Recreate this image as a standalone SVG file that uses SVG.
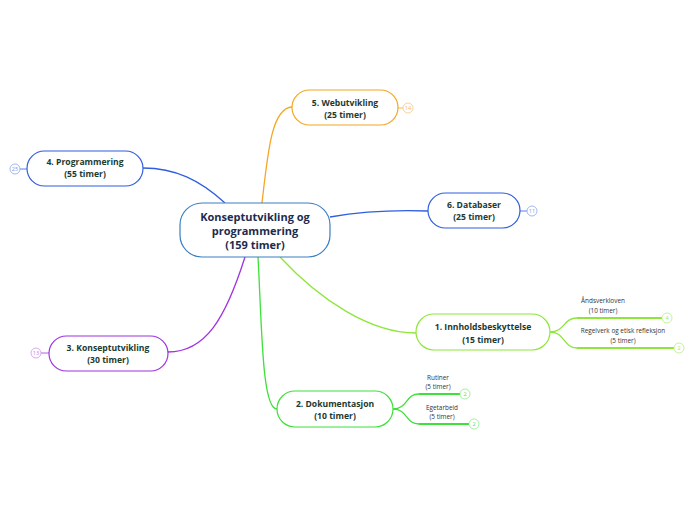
<svg xmlns="http://www.w3.org/2000/svg" width="696" height="520" viewBox="0 0 696 520">
<style>
.node{fill:#fff;stroke-width:1.2}
.lbl{font-family:"Open Sans","Noto Sans",sans-serif;font-weight:bold;font-size:8.6px;fill:#1d3a2f;text-anchor:middle}
.clbl{font-family:"Open Sans","Noto Sans",sans-serif;font-weight:bold;font-size:11px;fill:#1c2b4f;text-anchor:middle}
.sub{font-family:"Open Sans","Noto Sans",sans-serif;font-size:6.4px;fill:#333;text-anchor:middle}
.badge{fill:#fff;stroke-width:0.8}
.btxt{font-family:"Open Sans","Noto Sans",sans-serif;font-size:5.5px;text-anchor:middle}
.c{fill:none;stroke-width:1.3}
.u{fill:none;stroke-width:1.8}
.s{fill:none;stroke-width:0.8}
</style>
<rect width="696" height="520" fill="#fff"/>
<g id="connectors">
<path class="c" stroke="#f5a623" d="M262,203 C268,150 272,108 292,107"/>
<path class="c" stroke="#2f5fe0" d="M225,203 C200,180 175,168 143,168"/>
<path class="c" stroke="#2f5fe0" d="M330,217 C370,210 400,210 428,211"/>
<path class="c" stroke="#8ee63a" d="M280,257 C320,300 370,333 416,333"/>
<path class="c" stroke="#3ee03a" d="M258,257 C262,330 262,409 277,409"/>
<path class="c" stroke="#a033e0" d="M245,257 C225,320 205,352 168,352"/>
<path class="c" stroke="#8ee63a" d="M550,332 C565,332 563,318 577,318"/>
<path class="c" stroke="#8ee63a" d="M550,332 C565,332 563,348 577,348"/>
<path class="u" stroke="#8ee63a" d="M577,318 L662,318"/>
<path class="u" stroke="#8ee63a" d="M577,348 L674,348"/>
<path class="c" stroke="#3ee03a" d="M393,409 C408,409 405,394 419,394"/>
<path class="c" stroke="#3ee03a" d="M393,409 C408,409 405,424 419,424"/>
<path class="u" stroke="#3ee03a" d="M419,394 L460,394"/>
<path class="u" stroke="#3ee03a" d="M419,424 L469,424"/>
</g>
<g id="center">
<rect class="node" x="180" y="203" width="150" height="54" rx="22" stroke="#3a7fc1"/>
<text class="clbl" x="255" y="221">Konseptutvikling og</text>
<text class="clbl" x="255" y="235">programmering</text>
<text class="clbl" x="255" y="249">(159 timer)</text>
</g>
<g id="n5">
<rect class="node" x="292" y="90" width="106" height="35" rx="17.5" stroke="#f5a623"/>
<text class="lbl" x="345" y="106">5. Webutvikling</text>
<text class="lbl" x="345" y="118">(25 timer)</text>
<path class="s" stroke="#f5a623" d="M398,108 L403,108"/>
<circle class="badge" cx="408" cy="108" r="5" stroke="#f5c87a"/>
<text class="btxt" x="408" y="110" fill="#f5b860">14</text>
</g>
<g id="n4">
<rect class="node" x="27" y="151" width="116" height="35" rx="17.5" stroke="#2f5fe0"/>
<text class="lbl" x="85" y="165">4. Programmering</text>
<text class="lbl" x="85" y="177">(55 timer)</text>
<path class="s" stroke="#2f5fe0" d="M20,169 L27,169"/>
<circle class="badge" cx="15" cy="169" r="5" stroke="#8aa6ee"/>
<text class="btxt" x="15" y="171" fill="#7a98ea">25</text>
</g>
<g id="n6">
<rect class="node" x="428" y="193" width="92" height="35" rx="17.5" stroke="#2f5fe0"/>
<text class="lbl" x="474" y="208">6. Databaser</text>
<text class="lbl" x="474" y="220">(25 timer)</text>
<path class="s" stroke="#2f5fe0" d="M520,211 L527,211"/>
<circle class="badge" cx="532" cy="211" r="5" stroke="#8aa6ee"/>
<text class="btxt" x="532" y="213" fill="#7a98ea">11</text>
</g>
<g id="n1">
<rect class="node" x="416" y="314" width="134" height="36" rx="18" stroke="#8ee63a"/>
<text class="lbl" x="483" y="330">1. Innholdsbeskyttelse</text>
<text class="lbl" x="483" y="343">(15 timer)</text>
</g>
<g id="n1a">
<text class="sub" x="603" y="303">Åndsverkloven</text>
<text class="sub" x="603" y="313">(10 timer)</text>
<circle class="badge" cx="667" cy="318" r="5" stroke="#b5ee80"/>
<text class="btxt" x="667" y="320" fill="#a0e860">4</text>
</g>
<g id="n1b">
<text class="sub" x="623" y="333">Regelverk og etisk refleksjon</text>
<text class="sub" x="623" y="343">(5 timer)</text>
<circle class="badge" cx="679" cy="348" r="5" stroke="#b5ee80"/>
<text class="btxt" x="679" y="350" fill="#a0e860">2</text>
</g>
<g id="n2">
<rect class="node" x="277" y="391" width="116" height="36" rx="18" stroke="#3ee03a"/>
<text class="lbl" x="335" y="407">2. Dokumentasjon</text>
<text class="lbl" x="335" y="419">(10 timer)</text>
</g>
<g id="n2a">
<text class="sub" x="438" y="380">Rutiner</text>
<text class="sub" x="438" y="389">(5 timer)</text>
<circle class="badge" cx="465" cy="394" r="5" stroke="#8aee88"/>
<text class="btxt" x="465" y="396" fill="#60e05c">2</text>
</g>
<g id="n2b">
<text class="sub" x="442" y="410">Egetarbeid</text>
<text class="sub" x="442" y="419">(5 timer)</text>
<circle class="badge" cx="474" cy="424" r="5" stroke="#8aee88"/>
<text class="btxt" x="474" y="426" fill="#60e05c">2</text>
</g>
<g id="n3">
<rect class="node" x="49" y="336" width="119" height="35" rx="17.5" stroke="#a033e0"/>
<text class="lbl" x="108" y="351">3. Konseptutvikling</text>
<text class="lbl" x="108" y="363">(30 timer)</text>
<path class="s" stroke="#a033e0" d="M41,353 L49,353"/>
<circle class="badge" cx="36" cy="353" r="5" stroke="#cf92ee"/>
<text class="btxt" x="36" y="355" fill="#c07ae8">13</text>
</g>
</svg>
